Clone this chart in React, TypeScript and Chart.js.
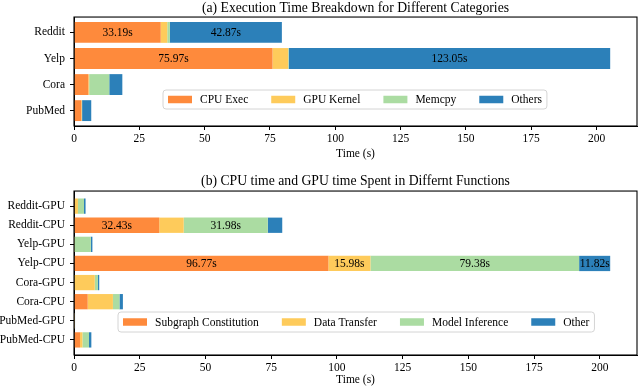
import { useEffect, useRef } from 'react';
import { Chart, registerables } from 'chart.js';

Chart.register(...registerables);

// ---------- data ----------
const topCategories = ['Reddit', 'Yelp', 'Cora', 'PubMed'];
const topSeriesNames = ['CPU Exec', 'GPU Kernel', 'Memcpy', 'Others'];
const topCpuExec = [33.19, 75.97, 5.5, 2.8];
const topGpuKernel = [2.5, 6.0, 0.3, 0.2];
const topMemcpy = [1.0, 0.2, 7.7, 0.1];
const topOthers = [42.87, 123.05, 5.0, 3.5];

const bottomCategories = [
  'Reddit-GPU', 'Reddit-CPU', 'Yelp-GPU', 'Yelp-CPU',
  'Cora-GPU', 'Cora-CPU', 'PubMed-GPU', 'PubMed-CPU',
];
const bottomSeriesNames = ['Subgraph Constitution', 'Data Transfer', 'Model Inference', 'Other'];
const bottomSubgraph = [0.3, 32.43, 0, 96.77, 0, 5.2, 0.1, 2.3];
const bottomTransfer = [1.2, 9.3, 0.1, 15.98, 7.9, 9.6, 0.1, 0.9];
const bottomInference = [2.3, 31.98, 6.3, 79.38, 1.2, 2.5, 0.1, 2.5];
const bottomOther = [0.6, 5.5, 0.6, 11.82, 0.5, 1.3, 0.1, 0.9];

const xTickValues = [0, 25, 50, 75, 100, 125, 150, 175, 200];
const labelThreshold = 10;

const topTitle = '(a) Execution Time Breakdown for Different Categories';
const bottomTitle = '(b) CPU time and GPU time Spent in Differnt Functions';
const xAxisTitle = 'Time (s)';

// ---------- styles ----------
const seriesColors = ['#fe8a3c', '#fecb5b', '#abdca2', '#2c80b9'];
const FONT = 'Liberation Serif';
const TEXT_SIZE = 11.5;
const TITLE_SIZE = 13.7;

type Layout = {
  height: number;
  padTop: number;
  padBottom: number;
  titlePadBottom: number;
  xHeight: number;
  legendLeft: number;
  legendTop: number;
  legendHeight: number;
};

function barLabelPlugin() {
  return {
    id: 'barLabels',
    afterDatasetsDraw(chart: any) {
      const ctx = chart.ctx;
      ctx.save();
      ctx.font = `${TEXT_SIZE}px "${FONT}"`;
      ctx.fillStyle = '#000';
      ctx.textAlign = 'center';
      ctx.textBaseline = 'middle';
      chart.data.datasets.forEach((ds: any, di: number) => {
        const meta = chart.getDatasetMeta(di);
        meta.data.forEach((el: any, i: number) => {
          const v = ds.data[i].x;
          if (v >= labelThreshold) {
            const p = el.getProps(['x', 'y', 'base'], true);
            ctx.fillText(v.toFixed(2) + 's', (p.x + p.base) / 2, p.y + 0.5);
          }
        });
      });
      ctx.restore();
    },
  };
}

function framePlugin() {
  return {
    id: 'frame',
    afterDraw(chart: any) {
      const { left, top, right, bottom } = chart.chartArea;
      const ctx = chart.ctx;
      ctx.save();
      ctx.strokeStyle = '#000';
      ctx.lineWidth = 1.1;
      ctx.strokeRect(left, top, right - left, bottom - top);
      ctx.restore();
    },
  };
}

function boxLegendPlugin(names: string[], layout: Layout) {
  return {
    id: 'boxLegend',
    afterDraw(chart: any) {
      const ctx = chart.ctx;
      ctx.save();
      ctx.font = `${TEXT_SIZE}px "${FONT}"`;
      const pad = 5;
      const sw = 24;
      const sh = 7.5;
      const gapText = 8;
      const gapItem = 23;
      let w = pad;
      const widths = names.map((n) => ctx.measureText(n).width);
      widths.forEach((tw, i) => {
        w += sw + gapText + tw + (i < names.length - 1 ? gapItem : 0);
      });
      w += pad;
      const x0 = layout.legendLeft;
      const y0 = layout.legendTop;
      const h = layout.legendHeight;
      ctx.beginPath();
      (ctx as any).roundRect(x0, y0, w, h, 3);
      ctx.fillStyle = 'rgba(255,255,255,0.8)';
      ctx.fill();
      ctx.strokeStyle = '#d4d4d4';
      ctx.lineWidth = 1;
      ctx.stroke();
      let x = x0 + pad;
      const cy = y0 + h / 2;
      ctx.textBaseline = 'middle';
      ctx.textAlign = 'left';
      names.forEach((n, i) => {
        ctx.fillStyle = seriesColors[i];
        ctx.fillRect(x, cy - sh / 2, sw, sh);
        x += sw + gapText;
        ctx.fillStyle = '#000';
        ctx.fillText(n, x, cy + 0.5);
        x += widths[i] + gapItem;
      });
      ctx.restore();
    },
  };
}

function makeConfig(
  categories: string[],
  names: string[],
  series: number[][],
  title: string,
  layout: Layout,
): any {
  const n = categories.length;
  const margin = 0.05 * (n - 1 + 0.8);
  const totals = categories.map((_, i) => series.reduce((s, arr) => s + arr[i], 0));
  const xMax = Math.max(...totals) * 1.05;
  const font = { family: FONT, size: TEXT_SIZE };
  return {
    type: 'bar',
    data: {
      datasets: series.map((vals, si) => ({
        label: names[si],
        data: vals.map((v, i) => ({ x: v, y: i })),
        backgroundColor: seriesColors[si],
        borderWidth: 0,
        barPercentage: 0.8,
        categoryPercentage: 1,
      })),
    },
    options: {
      indexAxis: 'y',
      responsive: false,
      animation: false,
      layout: { padding: { top: layout.padTop, bottom: layout.padBottom, left: 0, right: 3 } },
      plugins: {
        legend: { display: false },
        tooltip: { enabled: false },
        title: {
          display: true,
          fullSize: false,
          text: title,
          color: '#000',
          font: { family: FONT, size: TITLE_SIZE, weight: 'normal' },
          padding: { top: 0, bottom: layout.titlePadBottom },
        },
      },
      scales: {
        x: {
          type: 'linear',
          stacked: true,
          min: 0,
          max: xMax,
          afterBuildTicks: (s: any) => {
            s.ticks = xTickValues.map((v) => ({ value: v }));
          },
          afterFit: (s: any) => {
            s.height = layout.xHeight;
          },
          ticks: { font, color: '#000', padding: 2, maxRotation: 0 },
          grid: { drawOnChartArea: false, tickLength: 4, color: '#000' },
          border: { color: '#000', width: 1 },
          title: { display: true, text: xAxisTitle, font, color: '#000', padding: 0 },
        },
        y: {
          type: 'linear',
          stacked: true,
          reverse: true,
          offset: false,
          min: -0.4 - margin,
          max: n - 1 + 0.4 + margin,
          afterBuildTicks: (s: any) => {
            s.ticks = categories.map((_, i) => ({ value: i }));
          },
          afterFit: (s: any) => {
            s.width = 74;
          },
          ticks: {
            font,
            color: '#000',
            padding: 5,
            autoSkip: false,
            callback: (v: any) => categories[Math.round(Number(v))] ?? '',
          },
          grid: { drawOnChartArea: false, tickLength: 4, color: '#000', offset: false },
          border: { color: '#000', width: 1 },
        },
      },
    },
    plugins: [barLabelPlugin(), framePlugin(), boxLegendPlugin(names, layout)],
  };
}

const topLayout: Layout = {
  height: 170,
  padTop: 0,
  padBottom: 9,
  titlePadBottom: 0.6,
  xHeight: 35,
  legendLeft: 163,
  legendTop: 90,
  legendHeight: 19,
};

const bottomLayout: Layout = {
  height: 219,
  padTop: 3.5,
  padBottom: 2,
  titlePadBottom: 1.1,
  xHeight: 32,
  legendLeft: 118,
  legendTop: 142,
  legendHeight: 20,
};

export default function App() {
  const topRef = useRef<HTMLCanvasElement>(null);
  const bottomRef = useRef<HTMLCanvasElement>(null);

  useEffect(() => {
    Chart.defaults.font.family = FONT;
    Chart.defaults.color = '#000';
    const a = new Chart(
      topRef.current!,
      makeConfig(topCategories, topSeriesNames, [topCpuExec, topGpuKernel, topMemcpy, topOthers], topTitle, topLayout),
    );
    const b = new Chart(
      bottomRef.current!,
      makeConfig(
        bottomCategories,
        bottomSeriesNames,
        [bottomSubgraph, bottomTransfer, bottomInference, bottomOther],
        bottomTitle,
        bottomLayout,
      ),
    );
    return () => {
      a.destroy();
      b.destroy();
    };
  }, []);

  return (
    <div style={{ position: 'absolute', left: 0, top: 0, width: 640, height: 389, background: '#fff' }}>
      <canvas
        ref={topRef}
        width={640}
        height={topLayout.height}
        style={{ position: 'absolute', left: 0, top: 0, width: 640, height: topLayout.height }}
      />
      <canvas
        ref={bottomRef}
        width={640}
        height={bottomLayout.height}
        style={{ position: 'absolute', left: 0, top: topLayout.height, width: 640, height: bottomLayout.height }}
      />
    </div>
  );
}
